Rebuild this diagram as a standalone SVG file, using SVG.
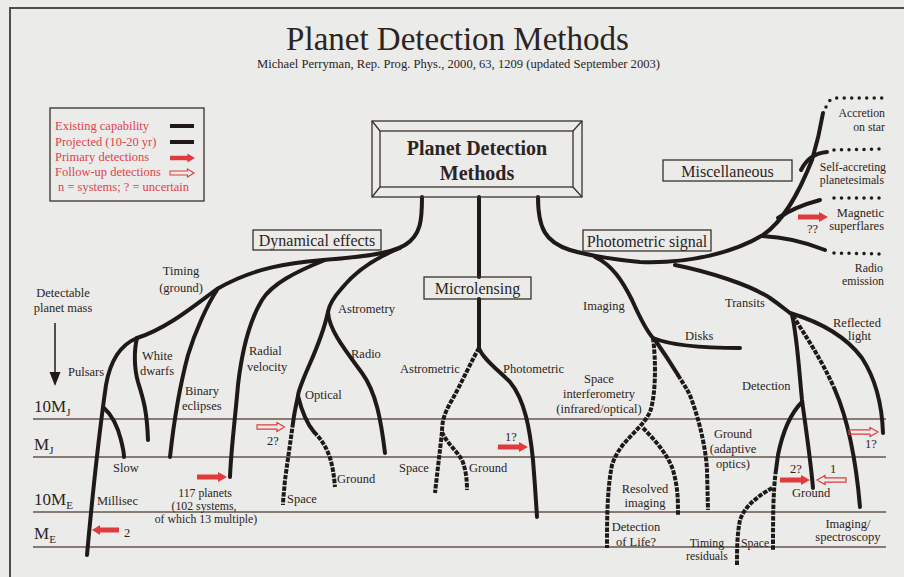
<svg xmlns="http://www.w3.org/2000/svg" xmlns:xlink="http://www.w3.org/1999/xlink" width="904" height="577" viewBox="0 0 904 577">
<defs>
<style>
text{font-family:"Liberation Serif","Times New Roman",serif;fill:#2b2420}
.lb{font-size:12.5px}
.sm{font-size:11.8px}
.c{text-anchor:middle}
.e{text-anchor:end}
.bx{font-size:16px}
.lg{font-size:12.5px;fill:#e0424a}
.br{fill:none;stroke:#1f1a17;stroke-width:4;stroke-linecap:round;stroke-linejoin:round}
.pj{fill:none;stroke:#1f1a17;stroke-width:4;stroke-dasharray:4.5 1.3}
.dt{fill:none;stroke:#1f1a17;stroke-width:3.5;stroke-linecap:round;stroke-dasharray:0 7.5}
.lv{stroke:#66574c;stroke-width:1.3}
.box{fill:none;stroke:#3a3028;stroke-width:1.3}
.ms{font-size:17px}
</style>
<path id="ra" d="M0,-2.6 H21 V-5 L30,0 L21,5 V2.6 H0 Z" fill="#e03a3d"/>
<path id="ha" d="M0,-2.2 H21 V-4.5 L29,0 L21,4.5 V2.2 H0 Z" fill="none" stroke="#e03a3d" stroke-width="1.2"/>
</defs>
<rect width="904" height="577" fill="#ebebea"/>
<path d="M10,577 V8 H904" fill="none" stroke="#4d4d4d" stroke-width="2"/>

<g id="title">
<text x="457.5" y="50" class="c" style="font-size:33px">Planet Detection Methods</text>
<text x="458.5" y="68" class="c" style="font-size:11.5px" textLength="403" lengthAdjust="spacingAndGlyphs">Michael Perryman, Rep. Prog. Phys., 2000, 63, 1209 (updated September 2003)</text>
</g>

<g id="legend">
<rect x="50" y="108" width="154" height="93" class="box" stroke="#4a4040"/>
<text x="55" y="130" class="lg">Existing capability</text>
<text x="55" y="146" class="lg">Projected (10-20 yr)</text>
<text x="55" y="161" class="lg">Primary detections</text>
<text x="55" y="176" class="lg">Follow-up detections</text>
<text x="58" y="191" class="lg">n = systems; ? = uncertain</text>
<line x1="170" y1="126" x2="194" y2="126" stroke="#1f1a17" stroke-width="4"/>
<line x1="170" y1="142" x2="194" y2="142" stroke="#1f1a17" stroke-width="4"/>
<use href="#ra" transform="translate(170,158) scale(0.83,0.9)"/>
<use href="#ha" transform="translate(170,173) scale(0.83,0.9)"/>
</g>

<g id="levels">
<line x1="33" y1="419" x2="886" y2="419" class="lv"/>
<line x1="33" y1="457" x2="886" y2="457" class="lv"/>
<line x1="33" y1="512" x2="886" y2="512" class="lv"/>
<line x1="33" y1="547" x2="886" y2="547" class="lv"/>
<text x="34" y="412" class="ms">10M<tspan dy="4" style="font-size:11px">J</tspan></text>
<text x="34" y="450" class="ms">M<tspan dy="4" style="font-size:11px">J</tspan></text>
<text x="34" y="505" class="ms">10M<tspan dy="4" style="font-size:11px">E</tspan></text>
<text x="34" y="539" class="ms">M<tspan dy="4" style="font-size:11px">E</tspan></text>
<text x="63" y="297" class="lb c">Detectable</text>
<text x="63" y="312" class="lb c">planet mass</text>
<line x1="55" y1="323" x2="55" y2="375" stroke="#1f1a17" stroke-width="1.5"/>
<polygon points="49.5,372 60.5,372 55,386" fill="#1f1a17"/>
</g>

<g id="connectors">
<!-- dynamical -->
<path class="br" d="M422,197 C422,220 421,235 405,245 C390,254 360,257 323,260 C290,263 255,267 217,289 C195,305 168,328 137,338"/>
<path class="br" d="M137,338 C120,345 110,362 106,385 C101,420 92,500 87,555"/>
<path class="br" d="M104,408 C112,415 118,428 121,440 C123,448 124,452 124,457"/>
<path class="br" d="M137,338 C134,350 134,368 138,382 C143,398 147,410 148,440"/>
<path class="br" d="M217,290 C207,305 195,332 188,355 C180,385 174,420 170,457"/>
<path class="br" d="M325,260 C295,272 272,284 262,300 C250,320 242,350 238,385 C235,420 231,450 230,477"/>
<path class="br" d="M400,248 C375,258 355,272 342,288 C333,298 329,305 328,312"/>
<path class="br" d="M328,312 C329,330 345,350 362,373 C376,392 381,420 385,453"/>
<path class="br" d="M328,312 C322,340 310,362 303,380 C299,390 298,394 298,396"/>
<path class="br" d="M298,396 C296,405 294,415 293,423"/>
<path class="pj" d="M293,423 C290,445 287,465 285,480 C284,492 283,500 283,505"/>
<path class="br" d="M298,396 C302,412 308,425 314,432"/>
<path class="pj" d="M314,432 C330,448 333,465 335,487"/>
<!-- microlensing -->
<path class="br" d="M479,197 V277"/>
<path class="br" d="M479,299 V348"/>
<path class="pj" d="M479,348 C472,360 462,382 452,400 C445,412 442,420 442,432"/>
<path class="pj" d="M442,432 C440,450 437,475 435,493"/>
<path class="pj" d="M442,432 C446,442 456,450 462,460 C466,470 467,480 467,490"/>
<path class="br" d="M479,348 C482,358 498,370 510,382 C525,400 530,430 533,460 C535,485 536,500 537,517"/>
<!-- photometric -->
<path class="br" d="M538,197 C538,228 545,242 570,250 C590,256 610,259 640,262 C690,264 735,252 763,235 C785,220 800,190 812,160 C818,140 821,125 823,113"/>
<path class="dt" d="M826,107 Q829,98 837,98 L883,98"/>
<path class="br" d="M801,170 C806,160 815,153 827,152"/>
<path class="dt" d="M834,150 L884,149"/>
<path class="br" d="M778,218 C790,210 805,204 820,200"/>
<path class="dt" d="M834,198 L884,198"/>
<path class="br" d="M762,236 C785,237 805,242 825,250"/>
<path class="dt" d="M834,253 L884,254"/>
<path class="br" d="M595,257 C612,265 622,280 632,300 C640,318 646,330 653,338"/>
<path class="br" d="M653,338 C670,345 700,348 740,348"/>
<path class="pj" d="M653,338 C656,360 656,395 650,412 C640,432 620,440 612,465 C607,490 607,520 607,548"/>
<path class="pj" d="M643,428 C655,440 668,455 673,470 C678,488 678,500 678,515"/>
<path class="br" d="M655,340 C662,350 670,362 678,375"/>
<path class="pj" d="M678,375 C684,385 688,390 691,398 C700,422 706,450 707,470 L708,510"/>
<path class="br" d="M675,265 C710,272 750,285 770,298 C780,305 786,310 790,313"/>
<path class="br" d="M790,313 C820,322 845,335 862,358 C875,378 882,405 883,433"/>
<path class="br" d="M792,315 C797,335 799,370 802,400 C806,430 810,455 813,488"/>
<path class="br" d="M802,402 C792,412 783,430 778,455 L776,470"/>
<path class="pj" d="M776,470 C773,490 773,520 773,550"/>
<path class="pj" d="M772,488 C760,495 745,505 740,520 C737,535 737,550 737,565"/>
<path class="pj" d="M793,316 C805,335 822,360 835,390"/>
<path class="br" d="M835,390 C848,420 856,460 860,507"/>
</g>

<g id="arrows">
<use href="#ra" transform="translate(119,530) scale(-0.9,1)"/>
<use href="#ra" transform="translate(197,477)"/>
<use href="#ha" transform="translate(257,427) scale(0.95,1)"/>
<use href="#ra" transform="translate(498,447)"/>
<use href="#ra" transform="translate(798,217)"/>
<use href="#ha" transform="translate(849,432)"/>
<use href="#ra" transform="translate(780,480)"/>
<use href="#ha" transform="translate(846,480) scale(-1,1)"/>
</g>

<g id="root">
<rect x="372" y="121" width="210" height="76" class="box"/>
<rect x="380" y="131" width="193" height="56" class="box"/>
<path d="M372,121 L380,131 M582,121 L573,131 M372,197 L380,187 M582,197 L573,187" class="box"/>
<text x="477" y="155" class="c" style="font-size:20px;font-weight:bold">Planet Detection</text>
<text x="477" y="180" class="c" style="font-size:20px;font-weight:bold">Methods</text>
</g>
<g id="dynamical">
<rect x="253" y="230" width="128" height="20" class="box"/>
<text x="317" y="246" class="bx c">Dynamical effects</text>
</g>
<g id="microlensing">
<rect x="424" y="277" width="107" height="22" class="box"/>
<text x="477.5" y="294" class="bx c">Microlensing</text>
</g>
<g id="photometric">
<rect x="583" y="230" width="128" height="21" class="box"/>
<text x="647" y="247" class="bx c">Photometric signal</text>
</g>
<g id="misc">
<rect x="663" y="160" width="129" height="21" class="box"/>
<text x="727.5" y="177" class="bx c">Miscellaneous</text>
</g>

<g id="labels-dyn">
<text x="181" y="275" class="lb c">Timing</text>
<text x="181" y="292" class="lb c">(ground)</text>
<text x="68" y="376" class="lb">Pulsars</text>
<text x="142" y="360" class="lb">White</text>
<text x="140" y="375" class="lb">dwarfs</text>
<text x="185" y="395" class="lb">Binary</text>
<text x="182" y="410" class="lb">eclipses</text>
<text x="249" y="355" class="lb">Radial</text>
<text x="247" y="371" class="lb">velocity</text>
<text x="113" y="472" class="lb">Slow</text>
<text x="97" y="505" class="lb">Millisec</text>
<text x="205" y="497" class="sm c">117 planets</text>
<text x="204" y="510" class="sm c">(102 systems,</text>
<text x="206" y="523" class="sm c">of which 13 multiple)</text>
<text x="124" y="537" class="lb">2</text>
<text x="267" y="445" class="lb">2?</text>
<text x="338" y="313" class="lb">Astrometry</text>
<text x="351" y="358" class="lb">Radio</text>
<text x="305" y="399" class="lb">Optical</text>
<text x="337" y="483" class="lb">Ground</text>
<text x="287" y="503" class="lb">Space</text>
</g>
<g id="labels-micro">
<text x="400" y="373" class="lb">Astrometric</text>
<text x="503" y="373" class="lb">Photometric</text>
<text x="399" y="472" class="lb">Space</text>
<text x="469" y="472" class="lb">Ground</text>
<text x="505" y="441" class="lb">1?</text>
</g>
<g id="labels-photo">
<text x="583" y="310" class="lb">Imaging</text>
<text x="599" y="383" class="lb c">Space</text>
<text x="599" y="398" class="lb c">interferometry</text>
<text x="599" y="413" class="lb c">(infrared/optical)</text>
<text x="685" y="340" class="lb">Disks</text>
<text x="725" y="307" class="lb">Transits</text>
<text x="833" y="327" class="lb">Reflected</text>
<text x="848" y="340" class="lb">light</text>
<text x="742" y="390" class="lb">Detection</text>
<text x="733" y="438" class="lb c">Ground</text>
<text x="733" y="453" class="lb c">(adaptive</text>
<text x="733" y="468" class="lb c">optics)</text>
<text x="645" y="493" class="lb c">Resolved</text>
<text x="645" y="507" class="lb c">imaging</text>
<text x="636" y="531" class="lb c">Detection</text>
<text x="636" y="546" class="lb c">of Life?</text>
<text x="707" y="547" class="sm c">Timing</text>
<text x="707" y="560" class="sm c">residuals</text>
<text x="741" y="547" class="sm">Space</text>
<text x="792" y="497" class="lb">Ground</text>
<text x="848" y="528" class="lb c">Imaging/</text>
<text x="848" y="541" class="lb c">spectroscopy</text>
<text x="790" y="473" class="lb">2?</text>
<text x="830" y="473" class="lb">1</text>
<text x="865" y="448" class="lb">1?</text>
</g>
<g id="labels-misc">
<text x="885" y="117" class="sm e">Accretion</text>
<text x="885" y="130.5" class="sm e">on star</text>
<text x="886" y="171" class="sm e">Self-accreting</text>
<text x="884" y="184" class="sm e">planetesimals</text>
<text x="884" y="217" class="lb e">Magnetic</text>
<text x="884" y="230" class="lb e">superflares</text>
<text x="807" y="233" class="lb">??</text>
<text x="883" y="272" class="sm e">Radio</text>
<text x="884" y="285" class="sm e">emission</text>
</g>
</svg>
